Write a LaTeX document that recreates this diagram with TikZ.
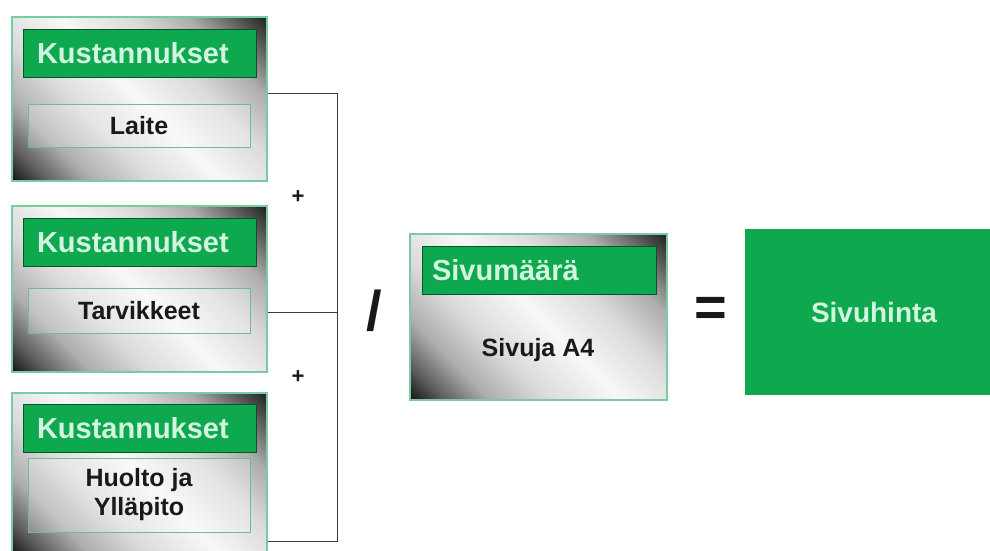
\documentclass[tikz,border=0pt]{standalone}
\usepackage{fontspec}
\setmainfont{Liberation Sans}
\usetikzlibrary{calc}
\definecolor{kgreen}{RGB}{14,168,78}
\definecolor{kmint}{RGB}{210,245,224}
\definecolor{kborder}{RGB}{120,205,160}
\definecolor{kinner}{RGB}{110,190,140}
\definecolor{kline}{RGB}{60,60,60}
\pgfdeclarehorizontalshading{silverdiag}{100bp}{color(0bp)=(black); color(14bp)=(black!95); color(20bp)=(black!65); color(28bp)=(black!32); color(38bp)=(black!14); color(50bp)=(black!3); color(62bp)=(black!14); color(72bp)=(black!32); color(80bp)=(black!65); color(86bp)=(black!90); color(100bp)=(black)}
\begin{document}
\begin{tikzpicture}[x=1pt,y=-1pt,
  outerbox/.style={draw=kborder, line width=1.5pt, shading=silverdiag, shading angle=45, minimum width=255pt, inner sep=0pt},
  header/.style={fill=kgreen, draw=black!50!kgreen, line width=0.8pt, text=kmint, font=\fontsize{29}{33}\selectfont\bfseries, minimum height=48pt, inner xsep=14pt, inner ysep=0pt, text width=205pt, align=left},
  innerbox/.style={draw=kinner, line width=0.8pt, fill=white, fill opacity=0.25, text opacity=1, minimum width=222pt, font=\fontsize{25}{29}\selectfont\bfseries, text=black!90, align=center, inner sep=0pt},
  opsym/.style={font=\fontsize{56}{60}\selectfont\bfseries, inner sep=0pt, text=black!90},
  plussym/.style={font=\fontsize{22}{24}\selectfont\bfseries, inner sep=0pt, text=black!90},
  conn/.style={draw=kline, line width=1pt}
]
\path[use as bounding box] (0,0) rectangle (990,550);

% Cost boxes
\node[outerbox, minimum height=164pt] (box1) at (139.5,99) {};
\node[header] (h1) at (139.5,53) {Kustannukset};
\node[innerbox, minimum height=43pt] (i1) at (139,125.5) {Laite};

\node[outerbox, minimum height=166pt] (box2) at (139.5,289) {};
\node[header] (h2) at (139.5,242.5) {Kustannukset};
\node[innerbox, minimum height=45pt] (i2) at (139,310.5) {Tarvikkeet};

\node[outerbox, minimum height=162pt] (box3) at (139.5,474) {};
\node[header] (h3) at (139.5,428.5) {Kustannukset};
\node[innerbox, minimum height=74pt] (i3) at (139,495) {Huolto ja\\Ylläpito};

% Connectors
\coordinate (jt) at (337,93);
\coordinate (jm) at (337,312);
\coordinate (jb) at (337,541);
\draw[conn] ($(box1.east)+(0,-6)$) -- (jt) -- (jb) -- ($(box3.east)+(0,67)$);
\draw[conn] ($(box2.east)+(0,23)$) -- (jm);

\node[plussym] (p1) at (298,197) {+};
\node[plussym] (p2) at (298,377) {+};

% Division
\node[opsym] (div) at (374,311) {/};

% Page count box
\node[outerbox, minimum width=257pt, minimum height=166pt] (box4) at (538.5,317) {};
\node[header, text width=214pt, inner xsep=10pt] (h4) at (539,270) {Sivumäärä};
\node[font=\fontsize{25}{29}\selectfont\bfseries, text=black!90, inner sep=0pt] (t4) at (538,350) {Sivuja A4};

% Equals
\node[opsym] (eq) at (711,312) {=};

% Result
\node[fill=kgreen, minimum width=250pt, minimum height=166pt, inner sep=0pt, anchor=west] (res) at (745,312) {};
\node[text=kmint, font=\fontsize{28}{32}\selectfont\bfseries, inner sep=0pt] (rt) at (874,312) {Sivuhinta};
\end{tikzpicture}
\end{document}
